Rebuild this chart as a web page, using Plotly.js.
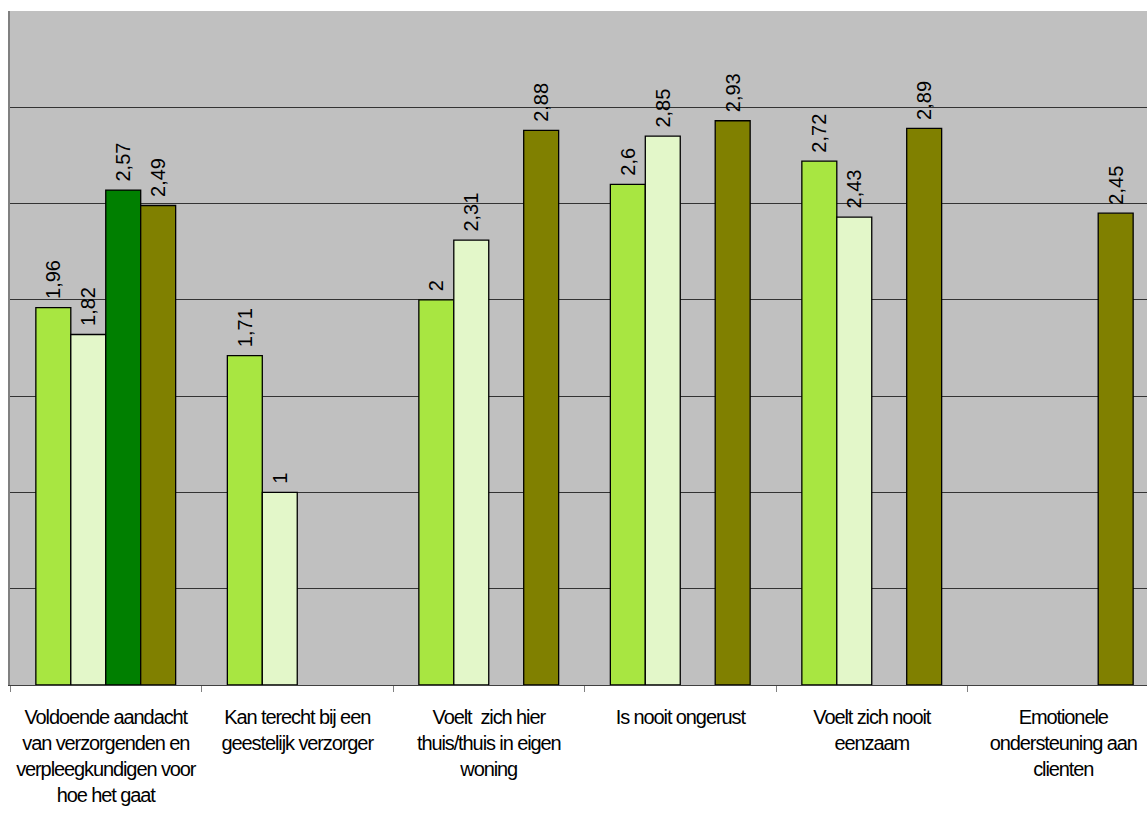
<!DOCTYPE html>
<html>
<head>
<meta charset="utf-8">
<script src="https://cdn.plot.ly/plotly-3.0.1.min.js"></script>
<style>
html,body{margin:0;padding:0;overflow:hidden;background:#fff;}
#chart .xtick text{letter-spacing:-1.1px;}
</style>
</head>
<body>
<div id="chart"></div>
<script>
const categories = [
  "Voldoende aandacht<br>van verzorgenden en<br>verpleegkundigen voor<br>hoe het gaat",
  "Kan terecht bij een<br>geestelijk verzorger",
  "Voelt  zich hier<br>thuis/thuis in eigen<br>woning",
  "Is nooit ongerust",
  "Voelt zich nooit<br>eenzaam",
  "Emotionele<br>ondersteuning aan<br>clienten"
];
const series1 = [1.96, 1.71, 2.00, 2.60, 2.72, null];
const series2 = [1.82, 1.00, 2.31, 2.85, 2.43, null];
const series3 = [2.57, null, null, null, null, null];
const series4 = [2.49, null, 2.88, 2.93, 2.89, 2.45];
const seriesValues = [series1, series2, series3, series4];
const seriesColors = ["#A8E641", "#E3F7C9", "#007F00", "#808000"];

function fmt(v){ return v === null ? "" : "\u00A0" + String(v).replace(".", ","); }

const traces = seriesValues.map((vals, i) => ({
  type: "bar",
  x: categories,
  y: vals,
  text: vals.map(fmt),
  textposition: "outside",
  textangle: -90,
  constraintext: "none",
  cliponaxis: false,
  textfont: {family: "Liberation Sans, Arial, sans-serif", size: 20, color: "#000"},
  marker: {color: seriesColors[i], line: {color: "#000", width: 1.3}},
  hoverinfo: "none"
}));

const layout = {
  width: 1159,
  height: 831,
  margin: {l: 10, r: 0, t: 11, b: 146},
  paper_bgcolor: "#ffffff",
  plot_bgcolor: "#C0C0C0",
  showlegend: false,
  barmode: "group",
  bargap: 0.27,
  bargroupgap: 0,
  font: {family: "Liberation Sans, Arial, sans-serif", color: "#000"},
  xaxis: {
    type: "category",
    tickson: "boundaries",
    ticks: "outside",
    ticklen: 6,
    tickcolor: "#808080",
    tickwidth: 1,
    showline: true,
    linecolor: "#404040",
    linewidth: 1,
    showgrid: false,
    tickangle: 0,
    tickfont: {family: "Liberation Sans, Arial, sans-serif", size: 20, color: "#000"},
    ticklabelstandoff: 14
  },
  yaxis: {
    range: [0, 3.5],
    dtick: 0.5,
    showticklabels: false,
    ticks: "",
    showgrid: true,
    gridcolor: "#333333",
    gridwidth: 1,
    zeroline: false,
    showline: true,
    linecolor: "#808080",
    linewidth: 2,
    mirror: true
  }
};

Plotly.newPlot("chart", traces, layout, {staticPlot: true, displayModeBar: false});
</script>
</body>
</html>
